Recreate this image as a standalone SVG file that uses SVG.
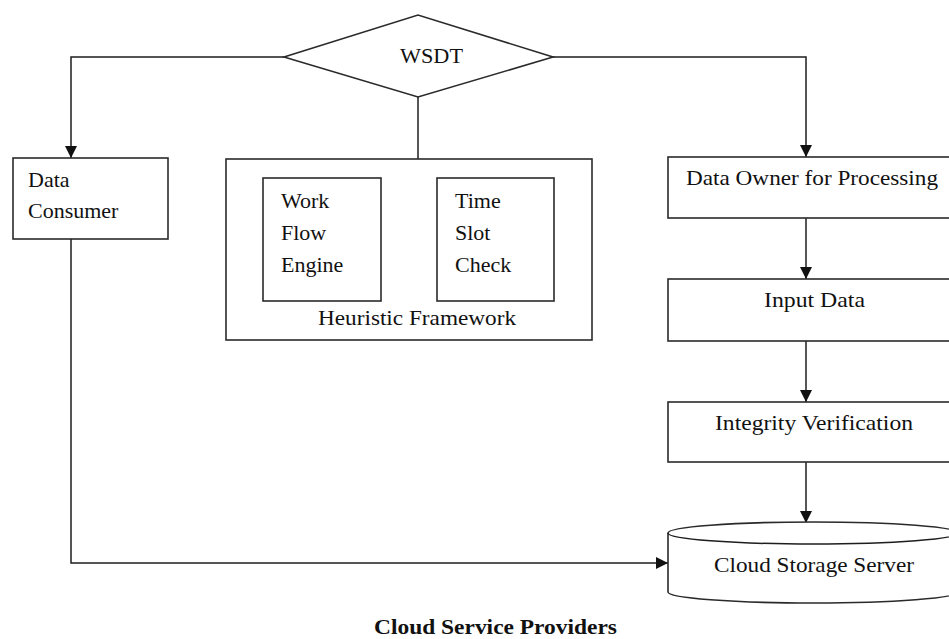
<svg xmlns="http://www.w3.org/2000/svg" width="949" height="639" viewBox="0 0 949 639">
  <style>
    .shape { fill: #ffffff; stroke: #2a2a2a; stroke-width: 1.6; }
    .edge { fill: none; stroke: #1e1e1e; stroke-width: 1.5; }
    text { font-family: "Liberation Serif", "Times New Roman", serif; font-size: 22px; fill: #111111; }
    .title { font-weight: bold; font-size: 21px; }
  </style>
  <defs>
    <marker id="arrow" viewBox="0 0 12 12" refX="12" refY="6" markerWidth="12" markerHeight="12" markerUnits="userSpaceOnUse" orient="auto">
      <path d="M0,0 L12,6 L0,12 Z" fill="#111111"/>
    </marker>
  </defs>

  <!-- connectors -->
  <g id="connectors">
    <polyline class="edge" points="284,57 71,57 71,158" marker-end="url(#arrow)"/>
    <line class="edge" x1="418" y1="96" x2="418" y2="159"/>
    <polyline class="edge" points="553,57 806,57 806,157" marker-end="url(#arrow)"/>
    <line class="edge" x1="806" y1="218" x2="806" y2="279" marker-end="url(#arrow)"/>
    <line class="edge" x1="806" y1="341" x2="806" y2="402" marker-end="url(#arrow)"/>
    <line class="edge" x1="806" y1="462" x2="806" y2="523" marker-end="url(#arrow)"/>
    <polyline class="edge" points="71,239 71,563 668,563" marker-end="url(#arrow)"/>
  </g>

  <!-- decision -->
  <g id="wsdt">
    <polygon class="shape" points="284,57 418,15 553,57 418,97"/>
    <text x="400" y="63" textLength="63" lengthAdjust="spacingAndGlyphs">WSDT</text>
  </g>

  <g id="data-consumer">
    <rect class="shape" x="13" y="158" width="155" height="81"/>
    <text x="28" y="187">Data</text>
    <text x="28" y="218">Consumer</text>
  </g>

  <g id="heuristic-framework">
    <rect class="shape" x="226" y="159" width="366" height="181"/>
    <text x="318" y="325" textLength="198" lengthAdjust="spacingAndGlyphs">Heuristic Framework</text>
  </g>

  <g id="work-flow-engine">
    <rect class="shape" x="263" y="178" width="118" height="123"/>
    <text x="281" y="208">Work</text>
    <text x="281" y="240">Flow</text>
    <text x="281" y="272">Engine</text>
  </g>

  <g id="time-slot-check">
    <rect class="shape" x="437" y="178" width="117" height="123"/>
    <text x="455" y="208">Time</text>
    <text x="455" y="240">Slot</text>
    <text x="455" y="272">Check</text>
  </g>

  <g id="data-owner">
    <rect class="shape" x="668" y="157" width="300" height="61"/>
    <text x="686" y="185" textLength="252" lengthAdjust="spacingAndGlyphs">Data Owner for Processing</text>
  </g>

  <g id="input-data">
    <rect class="shape" x="668" y="279" width="300" height="62"/>
    <text x="764" y="307" textLength="101" lengthAdjust="spacingAndGlyphs">Input Data</text>
  </g>

  <g id="integrity-verification">
    <rect class="shape" x="668" y="402" width="300" height="60"/>
    <text x="715" y="430" textLength="198" lengthAdjust="spacingAndGlyphs">Integrity Verification</text>
  </g>

  <g id="cloud-storage-server">
    <path class="shape" d="M668,533 L668,592 A145,11 0 0 0 958,592 L958,533 A145,11 0 0 0 668,533 Z"/>
    <path class="edge" d="M668,533 A145,11 0 0 0 958,533"/>
    <text x="714" y="572" textLength="200" lengthAdjust="spacingAndGlyphs">Cloud Storage Server</text>
  </g>

  <g id="caption">
    <text class="title" x="374" y="634" textLength="243" lengthAdjust="spacingAndGlyphs">Cloud Service Providers</text>
  </g>
</svg>
